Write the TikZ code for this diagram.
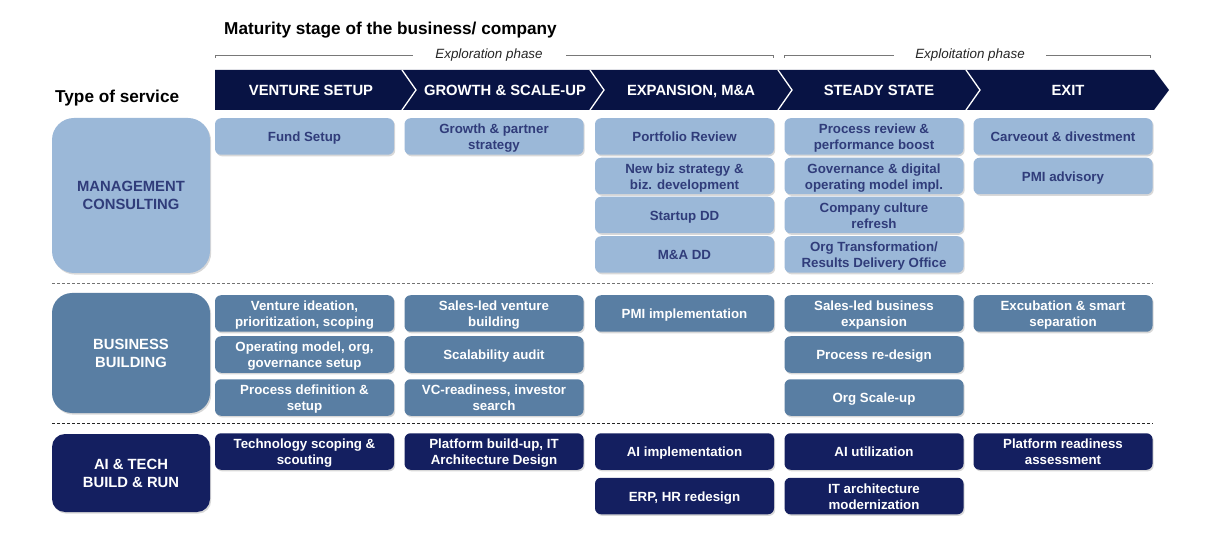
\documentclass[tikz,border=0pt]{standalone}
\usepackage{fontspec}
\setmainfont{Liberation Sans}
\usetikzlibrary{shadows}
\definecolor{mclight}{RGB}{155,184,216}
\definecolor{mctext}{RGB}{48,60,122}
\definecolor{bbmid}{RGB}{89,126,163}
\definecolor{aidark}{RGB}{20,31,96}
\definecolor{bandcol}{RGB}{8,19,68}
\definecolor{linegray}{RGB}{120,120,120}
\newcommand\celltxt[1]{\raisebox{-1.9pt}[\height][\depth]{\begin{tabular}{@{}c@{}}#1\end{tabular}}}
\begin{document}
\begin{tikzpicture}[x=1pt,y=-1pt,
  shad/.style={drop shadow={opacity=0.3, shadow xshift=1.2pt, shadow yshift=-1.6pt}},
  cell/.style={shad, rounded corners=6pt, minimum width=179pt, minimum height=36.5pt, inner sep=0pt, font=\fontsize{13.3}{16}\selectfont\bfseries},
  mc/.style={cell, fill=mclight, text=mctext},
  bb/.style={cell, fill=bbmid, text=white},
  ai/.style={cell, fill=aidark, text=white},
  cat/.style={shad, minimum width=158pt, inner sep=1pt, align=center, font=\fontsize{14.8}{18}\selectfont\bfseries},
  bandtxt/.style={text=white, font=\fontsize{14.8}{17}\selectfont\bfseries, inner sep=0pt, text height=10.6pt, text depth=0pt},
  phase/.style={font=\fontsize{13.4}{15}\selectfont\itshape, text=black!85, inner sep=0pt},
  brack/.style={draw=linegray, line width=0.8pt},
  sepline/.style={draw=white, line width=1.3pt},
  dashsep/.style={line width=0.9pt, dash pattern=on 3pt off 2pt},
  head/.style={font=\fontsize{17.2}{20}\selectfont\bfseries, anchor=west, inner sep=0pt}
]
\useasboundingbox[fill=white] (0,0) rectangle (1221,537);

% titles
\node[head] (title) at (224,30) {Maturity stage of the business/ company};
\node[head] (tos) at (55,98) {Type of service};

% phase brackets
\node[phase] (expl) at (489,55.5) {Exploration phase};
\node[phase] (expt) at (970,55.5) {Exploitation phase};
\coordinate (e1) at (215,58); \coordinate (e2) at (215,55); \coordinate (e3) at (413,55);
\coordinate (e4) at (566,55); \coordinate (e5) at (773,55); \coordinate (e6) at (773,58);
\draw[brack] (e1) -- (e2) -- (e3);
\draw[brack] (e4) -- (e5) -- (e6);
\coordinate (f1) at (784,58); \coordinate (f2) at (784,55); \coordinate (f3) at (894,55);
\coordinate (f4) at (1046,55); \coordinate (f5) at (1150,55); \coordinate (f6) at (1150,58);
\draw[brack] (f1) -- (f2) -- (f3);
\draw[brack] (f4) -- (f5) -- (f6);

% band
\fill[bandcol] (215,70) -- (1154,70) -- (1169,90) -- (1154,110) -- (215,110) -- cycle;
\foreach \bx in {402,590,778,966}{
  \draw[sepline] (\bx,70) -- (\bx+14,90) -- (\bx,110);
}
\node[bandtxt] (s1) at (311,90) {VENTURE SETUP};
\node[bandtxt] (s2) at (505,90) {GROWTH \& SCALE-UP};
\node[bandtxt] (s3) at (691,90) {EXPANSION, M\&A};
\node[bandtxt] (s4) at (879,90) {STEADY STATE};
\node[bandtxt] (s5) at (1068,90) {EXIT};

% category boxes
\node[cat, fill=mclight, text=mctext, rounded corners=22pt, minimum height=155pt] (mcc) at (131,195.5) {MANAGEMENT\\CONSULTING};
\node[cat, fill=bbmid, text=white, rounded corners=20pt, minimum height=120pt] (bbc) at (131,353) {BUSINESS\\BUILDING};
\node[cat, fill=aidark, text=white, rounded corners=13pt, minimum height=78pt] (aic) at (131,473) {AI \& TECH\\BUILD \& RUN};

% management consulting
\node[mc] (mc11) at (304.5,136.5) {\celltxt{Fund Setup}};
\node[mc] (mc21) at (494,136.5) {\celltxt{Growth \& partner\\strategy}};
\node[mc] (mc31) at (684.5,136.5) {\celltxt{Portfolio Review}};
\node[mc] (mc32) at (684.5,176) {\celltxt{New biz strategy \&\\biz. development}};
\node[mc] (mc33) at (684.5,215) {\celltxt{Startup DD}};
\node[mc] (mc34) at (684.5,254.5) {\celltxt{M\&A DD}};
\node[mc] (mc41) at (874,136.5) {\celltxt{Process review \&\\performance boost}};
\node[mc] (mc42) at (874,176) {\celltxt{Governance \& digital\\operating model impl.}};
\node[mc] (mc43) at (874,215) {\celltxt{Company culture\\refresh}};
\node[mc] (mc44) at (874,254.5) {\celltxt{Org Transformation/\\Results Delivery Office}};
\node[mc] (mc51) at (1063,136.5) {\celltxt{Carveout \& divestment}};
\node[mc] (mc52) at (1063,176) {\celltxt{PMI advisory}};

% separator 1
\coordinate (d1a) at (52,283); \coordinate (d1b) at (1153,283);
\draw[dashsep, draw=black!55] (d1a) -- (d1b);

% business building
\node[bb] (bb11) at (304.5,313.5) {\celltxt{Venture ideation,\\prioritization, scoping}};
\node[bb] (bb12) at (304.5,354.5) {\celltxt{Operating model, org,\\governance setup}};
\node[bb] (bb13) at (304.5,397.5) {\celltxt{Process definition \&\\setup}};
\node[bb] (bb21) at (494,313.5) {\celltxt{Sales-led venture\\building}};
\node[bb] (bb22) at (494,354.5) {\celltxt{Scalability audit}};
\node[bb] (bb23) at (494,397.5) {\celltxt{VC-readiness, investor\\search}};
\node[bb] (bb31) at (684.5,313.5) {\celltxt{PMI implementation}};
\node[bb] (bb41) at (874,313.5) {\celltxt{Sales-led business\\expansion}};
\node[bb] (bb42) at (874,354.5) {\celltxt{Process re-design}};
\node[bb] (bb43) at (874,397.5) {\celltxt{Org Scale-up}};
\node[bb] (bb51) at (1063,313.5) {\celltxt{Excubation \& smart\\separation}};

% separator 2
\coordinate (d2a) at (52,423.5); \coordinate (d2b) at (1153,423.5);
\draw[dashsep, draw=black!85] (d2a) -- (d2b);

% AI & tech
\node[ai] (ai11) at (304.5,451.5) {\celltxt{Technology scoping \&\\scouting}};
\node[ai] (ai21) at (494,451.5) {\celltxt{Platform build-up, IT\\Architecture Design}};
\node[ai] (ai31) at (684.5,451.5) {\celltxt{AI implementation}};
\node[ai] (ai32) at (684.5,496) {\celltxt{ERP, HR redesign}};
\node[ai] (ai41) at (874,451.5) {\celltxt{AI utilization}};
\node[ai] (ai42) at (874,496) {\celltxt{IT architecture\\modernization}};
\node[ai] (ai51) at (1063,451.5) {\celltxt{Platform readiness\\assessment}};
\end{tikzpicture}
\end{document}
